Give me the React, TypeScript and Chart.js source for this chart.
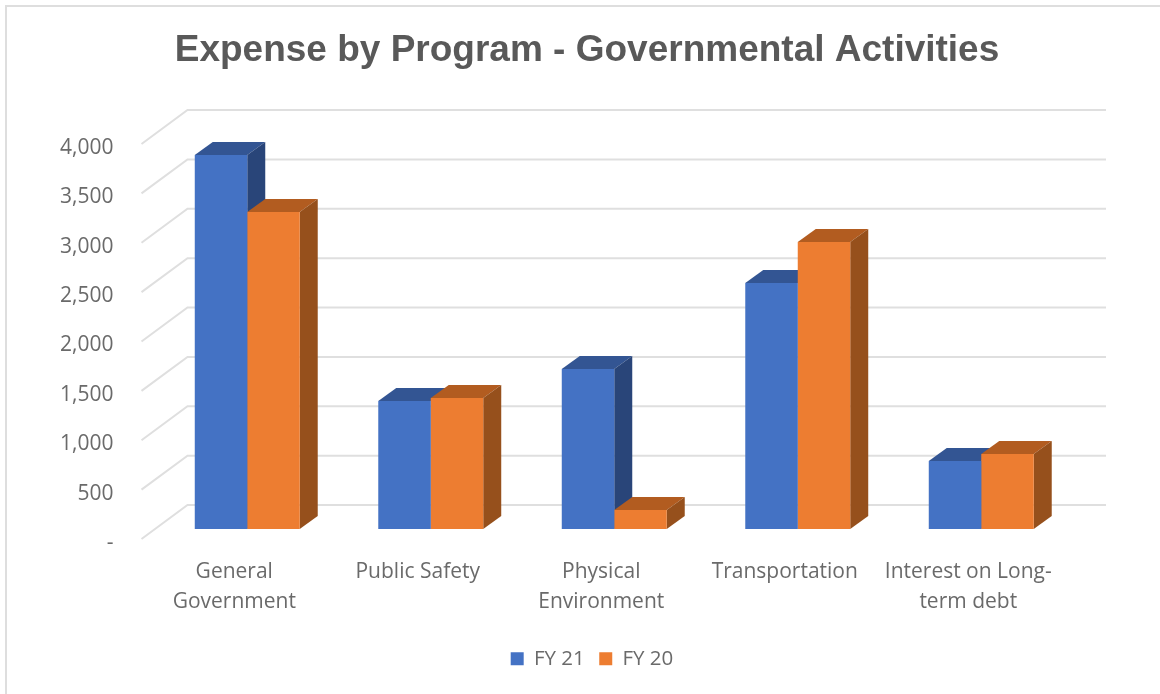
import React, { useEffect, useRef } from "react";
import { Chart, registerables } from "chart.js";

Chart.register(...registerables);

const categories = [
  ["General", "Government"],
  ["Public Safety"],
  ["Physical", "Environment"],
  ["Transportation"],
  ["Interest on Long-", "term debt"],
];
const fy21 = [3787, 1296, 1620, 2491, 689];
const fy20 = [3210, 1327, 192, 2906, 759];
const seriesNames = ["FY 21", "FY 20"];
const chartTitle = "Expense by Program - Governmental Activities";

const FRONT = ["#4472C4", "#ED7D31"];
const TOP = ["#335593", "#B25C20"];
const SIDE = ["#294579", "#96501C"];
const DEPTH_X = 18;
const DEPTH_Y = 13;
const GRID = "#DFDFDF";
const TEXT = "#6A6A6A";
const FONT = "'Open Sans', sans-serif";

const poly = (ctx: CanvasRenderingContext2D, pts: number[][], fill: string) => {
  ctx.beginPath();
  pts.forEach(([x, y], i) => (i ? ctx.lineTo(x, y) : ctx.moveTo(x, y)));
  ctx.closePath();
  ctx.fillStyle = fill;
  ctx.fill();
};

const frame3d = {
  id: "frame3d",
  afterLayout(chart: any) {
    // the legend sits slightly right of the title's centre
    chart.legend.left += 5;
    chart.legend.right += 5;
  },
  beforeDraw(chart: any) {
    const { ctx, width, height, chartArea, scales } = chart;
    ctx.save();
    // outer frame
    ctx.strokeStyle = "#DEDEDE";
    ctx.lineWidth = 2;
    ctx.beginPath();
    ctx.moveTo(6, height);
    ctx.lineTo(6, 6);
    ctx.lineTo(width, 6);
    ctx.stroke();
    // wall and floor lines
    ctx.strokeStyle = GRID;
    ctx.lineWidth = 2;
    scales.y.ticks.forEach((t: any) => {
      const y = scales.y.getPixelForValue(t.value);
      ctx.beginPath();
      ctx.moveTo(chartArea.left - 14, y + 10);
      ctx.lineTo(chartArea.left + 32, y - 24);
      ctx.lineTo(chartArea.right + 33, y - 24);
      ctx.stroke();
    });
    ctx.restore();
  },
  beforeDatasetsDraw(chart: any) {
    const { ctx } = chart;
    ctx.save();
    chart.data.datasets.forEach((_: any, di: number) => {
      chart.getDatasetMeta(di).data.forEach((bar: any) => {
        const l = bar.x - bar.width / 2;
        const r = bar.x + bar.width / 2;
        const t = bar.y;
        const b = bar.base;
        poly(ctx, [[l, t], [l + DEPTH_X, t - DEPTH_Y], [r + DEPTH_X, t - DEPTH_Y], [r, t]], TOP[di]);
        poly(ctx, [[r, t], [r + DEPTH_X, t - DEPTH_Y], [r + DEPTH_X, b - DEPTH_Y], [r, b]], SIDE[di]);
      });
    });
    ctx.restore();
  },
};

export default function App() {
  const ref = useRef<HTMLCanvasElement>(null);
  useEffect(() => {
    const chart = new Chart(ref.current as HTMLCanvasElement, {
      type: "bar",
      data: {
        labels: categories,
        datasets: [
          { label: seriesNames[0], data: fy21, backgroundColor: FRONT[0], categoryPercentage: 0.572, barPercentage: 1 },
          { label: seriesNames[1], data: fy20, backgroundColor: FRONT[1], categoryPercentage: 0.572, barPercentage: 1 },
        ],
      },
      plugins: [frame3d],
      options: {
        responsive: false,
        animation: false,
        layout: { padding: { left: 14, right: 0, top: 0, bottom: 15 } },
        plugins: {
          tooltip: { enabled: false },
          title: {
            display: true,
            text: chartTitle,
            color: "#595959",
            font: { family: "'Liberation Sans', Arial, sans-serif", size: 37, weight: "bold", lineHeight: 44 / 37 },
            padding: { top: 29, bottom: 61 },
          },
          legend: {
            position: "bottom",
            labels: {
              boxWidth: 13,
              boxHeight: 13,
              padding: 14.5,
              color: TEXT,
              font: { family: FONT, size: 20.5 },
            },
          },
        },
        scales: {
          x: {
            type: "category",
            grid: { display: false, drawTicks: false },
            border: { display: false },
            afterFit: (s: any) => { s.height = 105; },
            ticks: {
              color: TEXT,
              font: { family: FONT, size: 21, lineHeight: 30 / 21 },
              padding: 28,
              labelOffset: -13,
              maxRotation: 0,
              minRotation: 0,
              autoSkip: false,
            },
          },
          y: {
            type: "linear",
            min: 0,
            max: 4000,
            grid: { display: false, drawTicks: false },
            border: { display: false },
            afterFit: (s: any) => { s.width = 141.5; },
            ticks: {
              stepSize: 500,
              color: TEXT,
              font: { family: FONT, size: 21 },
              padding: 42,
              labelOffset: 14,
              callback: (v: any) => (v === 0 ? "-" : Number(v).toLocaleString("en-US")),
            },
          },
          yRight: {
            type: "linear",
            position: "right",
            min: 0,
            max: 4000,
            grid: { display: false, drawTicks: false },
            border: { display: false },
            ticks: { display: false },
            afterFit: (s: any) => { s.width = 87; },
          },
        },
      } as any,
    });
    return () => chart.destroy();
  }, []);
  return (
    <div style={{ position: "fixed", left: 0, top: 0, width: 1160, height: 694, background: "#fff" }}>
      <canvas ref={ref} width={1160} height={694} style={{ display: "block" }} />
    </div>
  );
}
